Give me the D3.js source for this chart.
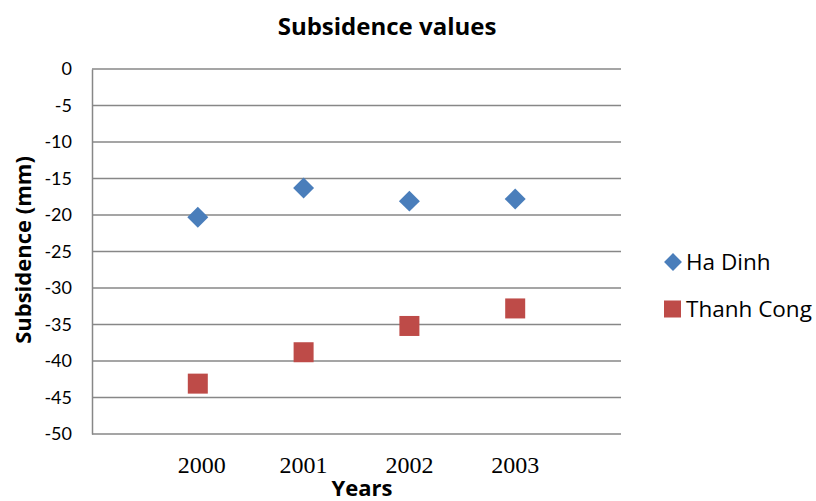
<!DOCTYPE html>
<html>
<head>
<meta charset="utf-8">
<script src="https://cdn.jsdelivr.net/npm/d3@7"></script>
<style>
  html, body { margin: 0; padding: 0; background: #fff; }
  svg { display: block; }
</style>
</head>
<body>
<div id="chart"></div>
<script>
// Subsidence measurements (mm) per year for two sites
const years = [2000, 2001, 2002, 2003];
const haDinh = [-20.3, -16.3, -18.1, -17.8];
const thanhCong = [-43.1, -38.8, -35.2, -32.8];
const yTicks = [0, -5, -10, -15, -20, -25, -30, -35, -40, -45, -50];
const seriesNames = ["Ha Dinh", "Thanh Cong"];
const seriesColors = ["#4A7EBB", "#BE4B48"];

const W = 816, H = 501;
const plot = { left: 92, right: 621, top: 69, bottom: 434 };
const sans = "'Open Sans', Lato, sans-serif";

const svg = d3.select("#chart").append("svg")
  .attr("width", W).attr("height", H);

const x = d3.scaleLinear().domain([1999, 2004]).range([plot.left, plot.right]);
const y = d3.scaleLinear().domain([-50, 0]).range([plot.bottom, plot.top]);

// Horizontal gridlines
svg.append("g").selectAll("line").data(yTicks).join("line")
  .attr("x1", plot.left).attr("x2", plot.right)
  .attr("y1", d => y(d)).attr("y2", d => y(d))
  .attr("stroke", "#878787").attr("stroke-width", 1.5);

// Y axis
const yAxis = svg.append("g")
  .attr("transform", `translate(${plot.left},0)`)
  .call(d3.axisLeft(y).tickValues(yTicks).tickSize(0).tickPadding(20).tickFormat(d => String(d)));
yAxis.select(".domain").attr("stroke", "#878787").attr("stroke-width", 1.5);
yAxis.selectAll(".tick text")
  .attr("font-family", "Lato, sans-serif")
  .attr("font-size", 18).attr("fill", "#000");

// X category labels
svg.append("g").selectAll("text").data(years).join("text")
  .attr("x", d => x(d) + (d === 2000 ? 4 : 0))
  .attr("y", 473)
  .attr("text-anchor", "middle")
  .attr("font-family", "Liberation Serif, serif")
  .attr("font-size", 24)
  .attr("fill", "#000")
  .text(d => d);

// Ha Dinh: diamonds
const diamond = d3.symbol().type(d3.symbolSquare).size(220)();
svg.append("g").selectAll("path").data(years).join("path")
  .attr("d", diamond)
  .attr("transform", (d, i) => `translate(${x(d)},${y(haDinh[i])}) rotate(45)`)
  .attr("fill", seriesColors[0]);

// Thanh Cong: squares
const sq = 20;
svg.append("g").selectAll("rect").data(years).join("rect")
  .attr("x", d => x(d) - sq / 2)
  .attr("y", (d, i) => y(thanhCong[i]) - sq / 2)
  .attr("width", sq).attr("height", sq)
  .attr("fill", seriesColors[1]);

// Title and axis titles
svg.append("text")
  .attr("x", 387).attr("y", 35)
  .attr("text-anchor", "middle")
  .attr("font-family", sans)
  .attr("font-weight", "bold").attr("font-size", 24)
  .text("Subsidence values");

svg.append("text")
  .attr("x", 362).attr("y", 496)
  .attr("text-anchor", "middle")
  .attr("font-family", sans)
  .attr("font-weight", "bold").attr("font-size", 22)
  .text("Years");

svg.append("text")
  .attr("transform", `translate(31,250) rotate(-90)`)
  .attr("text-anchor", "middle")
  .attr("font-family", sans)
  .attr("font-weight", "bold").attr("font-size", 22)
  .text("Subsidence (mm)");

// Legend
const legend = svg.append("g");
const ly = [262, 309];
legend.append("path")
  .attr("d", d3.symbol().type(d3.symbolSquare).size(160)())
  .attr("transform", `translate(673,${ly[0]}) rotate(45)`)
  .attr("fill", seriesColors[0]);
legend.append("rect")
  .attr("x", 664).attr("y", ly[1] - 8.5).attr("width", 17).attr("height", 17)
  .attr("fill", seriesColors[1]);
legend.selectAll("text").data(seriesNames).join("text")
  .attr("x", 686).attr("y", (d, i) => ly[i] + 8)
  .attr("font-family", sans)
  .attr("font-size", 22.5).attr("fill", "#000")
  .text(d => d);
</script>
</body>
</html>
